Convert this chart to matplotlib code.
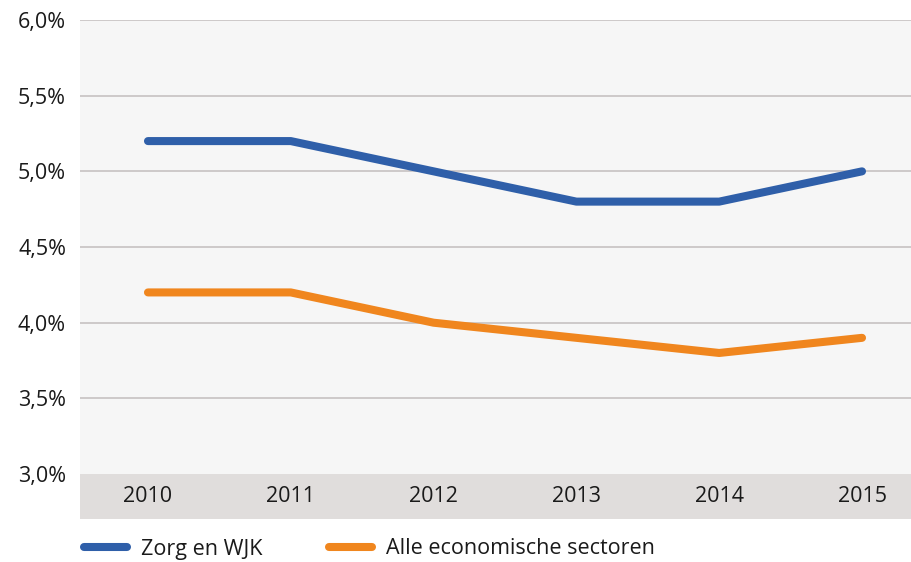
import matplotlib.pyplot as plt
from matplotlib.lines import Line2D

plt.rcParams['font.family'] = ['Open Sans', 'DejaVu Sans']

years = ['2010', '2011', '2012', '2013', '2014', '2015']
zorg = [5.2, 5.2, 5.0, 4.8, 4.8, 5.0]
alle = [4.2, 4.2, 4.0, 3.9, 3.8, 3.9]
yticks = [3.0, 3.5, 4.0, 4.5, 5.0, 5.5, 6.0]

BLUE = '#2f5fa9'
ORANGE = '#f0861e'
BAND_BOTTOM = 2.703
FS = 15.5

fig = plt.figure(figsize=(9.11, 5.62), dpi=100)
ax = fig.add_axes([80 / 911, 43 / 562, 831 / 911, 499 / 562])
ax.set_facecolor('#f6f6f6')

x = list(range(len(years)))
ax.plot(x, zorg, color=BLUE, lw=5.8, solid_capstyle='round', solid_joinstyle='round', zorder=3)
ax.plot(x, alle, color=ORANGE, lw=5.8, solid_capstyle='round', solid_joinstyle='round', zorder=3)

# gray band holding the year labels
ax.axhspan(BAND_BOTTOM, 3.0, color='#e0dddc', lw=0, zorder=1)
for i, y in enumerate(years):
    ax.text(i, (BAND_BOTTOM + 3.0) / 2, y, ha='center', va='center', fontsize=FS, color='#1a1a1a')

for v in yticks[1:]:
    ax.axhline(v, color='#c6c2c2', lw=1.2, zorder=2)

ax.set_xlim(-0.476, 5.343)
ax.set_ylim(BAND_BOTTOM, 6.0)
ax.set_xticks([])
ax.set_yticks(yticks)
ax.set_yticklabels([f"{v:.1f}%".replace('.', ',') for v in yticks], fontsize=FS, color='#1a1a1a')
ax.tick_params(axis='y', length=0, pad=10)
for s in ax.spines.values():
    s.set_visible(False)

# two one-entry legends so each sits where the reference has it
entries = [(BLUE, 'Zorg en WJK', 64.6), (ORANGE, 'Alle economische sectoren', 309.6)]
for color, label, left in entries:
    h = Line2D([], [], color=color, lw=5.8, solid_capstyle='round')
    leg = fig.legend([h], [label], loc='center left', bbox_to_anchor=(left / 911, 1 - 549 / 562),
                     frameon=False, fontsize=FS, handlelength=2.0, handletextpad=0.65,
                     labelcolor='#1a1a1a')

fig.savefig('out.png', dpi=100)
